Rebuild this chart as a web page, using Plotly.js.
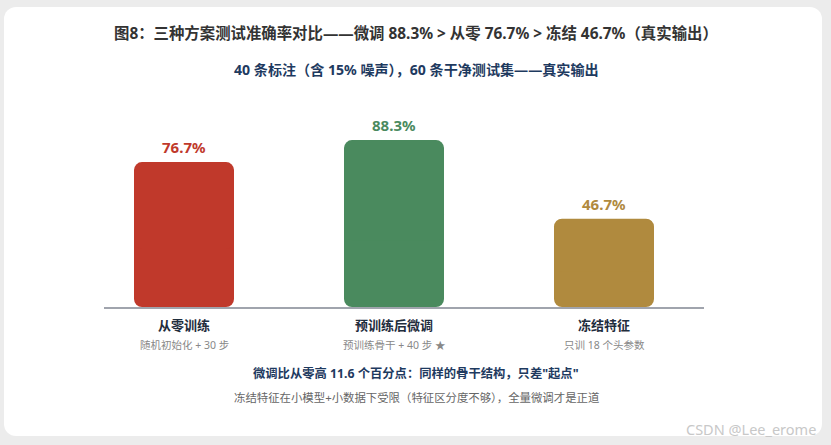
<!DOCTYPE html>
<html><head><meta charset="utf-8">
<script src="https://cdn.plot.ly/plotly-3.0.1.min.js"></script>
<style>
html,body{margin:0;padding:0;background:#ececec;width:831px;height:445px;overflow:hidden}
#card{position:absolute;left:4px;top:7px;width:818px;height:429px;background:#fff;border-radius:12px}
#chart{position:absolute;left:0;top:0;width:831px;height:445px}
</style></head>
<body><div id="card"></div><div id="chart"></div>
<script>
const categories = ["从零训练", "预训练后微调", "冻结特征"];
const subLabels = ["随机初始化 + 30 步", "预训练骨干 + 40 步 ★", "只训 18 个头参数"];
const accuracy = [76.7, 88.3, 46.7];
const barColors = ["#c0392b", "#4a8a5e", "#b08a3e"];
const titleText = "图8：三种方案测试准确率对比——微调 88.3% > 从零 76.7% > 冻结 46.7%（真实输出）";
const subtitleText = "40 条标注（含 15% 噪声），60 条干净测试集——真实输出";
const noteBold = "微调比从零高 11.6 个百分点：同样的骨干结构，只差\"起点\"";
const noteGray = "冻结特征在小模型+小数据下受限（特征区分度不够），全量微调才是正道";
const watermark = "CSDN @Lee_erome";

const FONT = "Noto Sans, Noto Sans CJK SC, sans-serif";
const xs = categories.map((_, i) => i);
const barW = 100 / 210;

const lower = {
  type: "bar", x: xs, base: accuracy.map(v => v * 0.6), y: accuracy.map(v => -v * 0.6),
  width: barW, marker: {color: barColors, cornerradius: 8, line: {width: 0}},
  hoverinfo: "skip", showlegend: false
};
const upper = {
  type: "bar", x: xs, base: accuracy.map(v => v * 0.4), y: accuracy.map(v => v * 0.6),
  width: barW, marker: {color: barColors, cornerradius: 8, line: {width: 0}},
  hoverinfo: "skip", showlegend: false
};

const ann = [];
accuracy.forEach((v, i) => {
  ann.push({x: i, y: v, xref: "x", yref: "y", text: "<b>" + v.toFixed(1) + "%</b>", showarrow: false,
    yanchor: "bottom", yshift: 3, font: {family: FONT, size: 15, color: barColors[i]}});
  ann.push({x: i, y: 0, xref: "x", yref: "paper", text: "<b>" + categories[i] + "</b>", showarrow: false,
    yanchor: "middle", yshift: -18, font: {family: FONT, size: 13, color: "#1f2d3d"}});
  ann.push({x: i, y: 0, xref: "x", yref: "paper", text: subLabels[i], showarrow: false,
    yanchor: "middle", yshift: -38, font: {family: FONT, size: 10.5, color: "#888888"}});
});
const cx = (416 - 104) / 600;
ann.push({x: cx, y: 1, xref: "paper", yref: "paper", text: "<b>" + titleText + "</b>", showarrow: false,
  yanchor: "middle", yshift: 85, font: {family: FONT, size: 15.4, color: "#333333"}});
ann.push({x: cx, y: 1, xref: "paper", yref: "paper", text: "<b>" + subtitleText + "</b>", showarrow: false,
  yanchor: "middle", yshift: 49, font: {family: FONT, size: 14.1, color: "#1e3a5f"}});
ann.push({x: cx, y: 0, xref: "paper", yref: "paper", text: "<b>" + noteBold + "</b>", showarrow: false,
  yanchor: "middle", yshift: -66, font: {family: FONT, size: 12.3, color: "#1e3a5f"}});
ann.push({x: cx, y: 0, xref: "paper", yref: "paper", text: noteGray, showarrow: false,
  yanchor: "middle", yshift: -90, font: {family: FONT, size: 11.4, color: "#666666"}});
ann.push({x: (818 - 104) / 600, y: 0, xref: "paper", yref: "paper", text: watermark, showarrow: false,
  xanchor: "right", yanchor: "middle", yshift: -122, font: {family: FONT, size: 14.5, color: "#c8c8c8"}});

const layout = {
  width: 831, height: 445,
  margin: {l: 104, r: 127, t: 118, b: 138, pad: 0},
  paper_bgcolor: "rgba(0,0,0,0)", plot_bgcolor: "rgba(0,0,0,0)",
  barmode: "overlay",
  xaxis: {range: [-80 / 210, 2 + 100 / 210], showline: true, linecolor: "#a0a4ad", linewidth: 2,
    showticklabels: false, ticks: "", showgrid: false, zeroline: false, fixedrange: true},
  yaxis: {range: [0, 100], visible: false, fixedrange: true},
  annotations: ann,
  font: {family: FONT}
};
Plotly.newPlot("chart", [lower, upper], layout, {displayModeBar: false, staticPlot: true});
</script></body></html>
